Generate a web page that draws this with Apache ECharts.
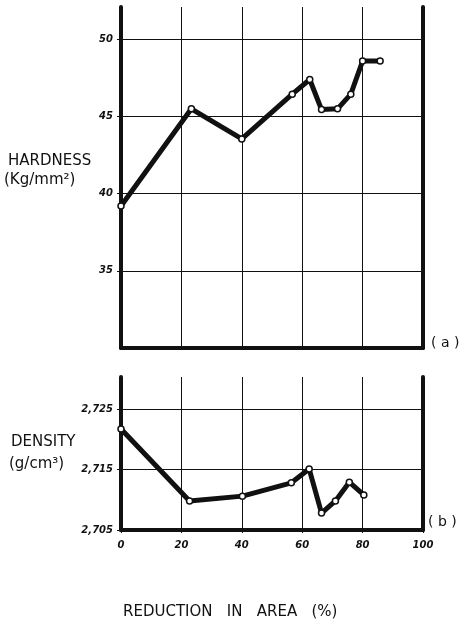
<!DOCTYPE html>
<html>
<head>
<meta charset="utf-8">
<title>Hardness and density vs reduction in area</title>
<script src="https://cdn.jsdelivr.net/npm/echarts@6/dist/echarts.min.js"></script>
<style>
  html, body { margin: 0; padding: 0; background: #fff; }
  #chart { width: 460px; height: 625px; }
</style>
</head>
<body>
<div id="chart"></div>
<script>
// (a) hardness, Kg/mm2
const hardnessX = [0, 23.3, 40, 56.7, 62.5, 66.4, 71.7, 76.1, 80, 85.8];
const hardness = [39.2, 45.5, 43.55, 46.45, 47.4, 45.45, 45.5, 46.45, 48.6, 48.6];
// (b) density, g/cm3
const densityX = [0, 22.7, 40.2, 56.4, 62.3, 66.4, 71, 75.6, 80.4];
const density = [2.7217, 2.7098, 2.7106, 2.7128, 2.7151, 2.7078, 2.7098, 2.7129, 2.7108];
// tick labels
const xTicks = [0, 20, 40, 60, 80, 100];
const hardnessTicks = [35, 40, 45, 50];
const densityTicks = [2.705, 2.715, 2.725];

const ink = '#111';
const labelFont = { fontFamily: 'DejaVu Sans', fontStyle: 'italic', fontWeight: 'bold', fontSize: 10, color: ink };
const titleFont = { fontFamily: 'DejaVu Sans', fontSize: 15, fill: ink };

const chart = echarts.init(document.getElementById('chart'));

function pairs(xs, ys) {
    return xs.map((x, i) => [x, ys[i]]);
}

function title(text, extra) {
    return Object.assign({ text: text }, titleFont, extra || {});
}

// x axis shared settings (0..100 every 20)
function xAxisFor(gridIndex, showLabels) {
    return {
        type: 'value', gridIndex: gridIndex,
        min: xTicks[0], max: xTicks[xTicks.length - 1], interval: 20,
        axisLine: { show: true, onZero: false, lineStyle: { color: ink, width: 4 } },
        axisTick: { show: showLabels, length: 3, lineStyle: { color: ink } },
        axisLabel: Object.assign({ show: showLabels, margin: 10 }, labelFont),
        splitLine: { show: true, showMinLine: false, showMaxLine: false, lineStyle: { color: ink, width: 1 } }
    };
}

function rightAxis(gridIndex, min, max) {
    return {
        type: 'value', gridIndex: gridIndex, position: 'right', min: min, max: max,
        axisLine: { show: true, lineStyle: { color: ink, width: 4 } },
        axisTick: { show: false }, axisLabel: { show: false }, splitLine: { show: false }
    };
}

const lineSeries = {
    type: 'line',
    symbol: 'circle',
    symbolSize: 6,
    lineStyle: { color: ink, width: 5, join: 'round' },
    itemStyle: { color: '#fff', borderColor: ink, borderWidth: 1.5 },
    z: 5
};

chart.setOption({
    animation: false,
    backgroundColor: '#fff',
    grid: [
        { left: 121, top: 7, width: 302, height: 341, outerBoundsMode: 'none' },
        { left: 121, top: 377, width: 302, height: 153, outerBoundsMode: 'none' }
    ],
    xAxis: [xAxisFor(0, false), xAxisFor(1, true)],
    yAxis: [
        {
            type: 'value', gridIndex: 0, min: 30, max: 52.1, interval: 5,
            axisLine: { show: true, lineStyle: { color: ink, width: 4 } },
            axisTick: { show: true, length: 4, lineStyle: { color: ink } },
            axisLabel: Object.assign({
                margin: 8, showMinLabel: false, showMaxLabel: false,
                formatter: v => hardnessTicks.includes(v) ? String(v) : ''
            }, labelFont),
            splitLine: { show: true, showMinLine: false, showMaxLine: false, lineStyle: { color: ink, width: 1 } }
        },
        {
            type: 'value', gridIndex: 1, min: 2.705, max: 2.7303, interval: 0.01,
            axisLine: { show: true, lineStyle: { color: ink, width: 4 } },
            axisTick: { show: true, length: 4, lineStyle: { color: ink } },
            axisLabel: Object.assign({
                margin: 8, showMaxLabel: false,
                formatter: v => densityTicks.some(t => Math.abs(t - v) < 1e-6) ? v.toFixed(3).replace('.', ',') : ''
            }, labelFont),
            splitLine: { show: true, showMinLine: false, showMaxLine: false, lineStyle: { color: ink, width: 1 } }
        },
        rightAxis(0, 30, 52.1),
        rightAxis(1, 2.705, 2.7303)
    ],
    series: [
        Object.assign({ name: 'Hardness', xAxisIndex: 0, yAxisIndex: 0, data: pairs(hardnessX, hardness) }, lineSeries),
        Object.assign({ name: 'Density', xAxisIndex: 1, yAxisIndex: 1, data: pairs(densityX, density) }, lineSeries)
    ],
    graphic: [
        { type: 'text', left: 8, top: 154, style: title('HARDNESS') },
        { type: 'text', left: 4, top: 173, style: title('(Kg/mm²)') },
        { type: 'text', left: 11, top: 435, style: title('DENSITY') },
        { type: 'text', left: 9, top: 457, style: title('(g/cm³)') },
        { type: 'text', left: 431, top: 336, style: title('( a )', { fontSize: 14 }) },
        { type: 'text', left: 428, top: 515, style: title('( b )', { fontSize: 14 }) },
        { type: 'text', left: 123, top: 605, style: title('REDUCTION   IN   AREA   (%)') }
    ]
});
</script>
</body>
</html>
